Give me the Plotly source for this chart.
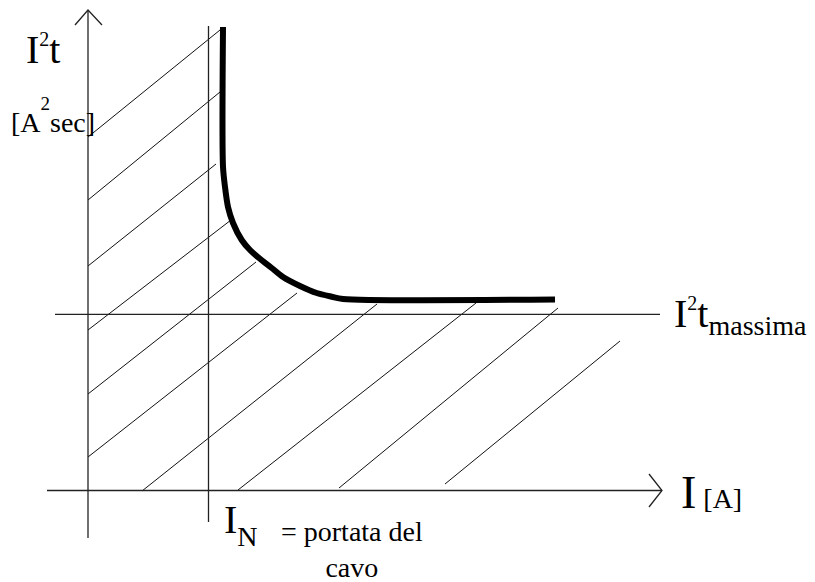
import plotly.graph_objects as go

# ---- diagram geometry (drawing units, y grows downward) ----
# vertical axis I^2t with arrow
yaxis_line_x = [88, 88]
yaxis_line_y = [10, 538]
yaxis_arrow_x = [75, 88, 102]
yaxis_arrow_y = [25, 10, 25]

# horizontal axis I with arrow
xaxis_line_x = [47, 662]
xaxis_line_y = [490.5, 490.5]
xaxis_arrow_x = [649, 662, 649]
xaxis_arrow_y = [474, 490.5, 507]

# I_N vertical reference line
in_line_x = [208.5, 208.5]
in_line_y = [26, 522]

# I^2t massima horizontal reference line
max_line_x = [55, 660]
max_line_y = [314.3, 314.3]

# thick protection curve
curve_x = [223, 223, 225, 228, 233, 241.7, 250, 259, 271.7, 283, 300, 316.7, 331.7, 343, 555]
curve_y = [27, 166.7, 187, 207, 223, 240, 250, 258, 268, 277, 286, 293, 296.7, 299, 299.5]

# hatch segments
hatch_x0 = [88, 88, 88, 88, 88, 88, 142, 238, 339, 445]
hatch_y0 = [137, 200, 266, 330, 394, 457, 491, 490, 488, 484]
hatch_x1 = [220, 220, 216, 231, 256, 297, 377, 476, 558, 620]
hatch_y1 = [30, 92, 164, 220, 262, 293, 304, 303, 308, 341]

# labels
label_i2t = "I<sup><span style='font-size:20px'>2</span></sup>t"
label_unit_y = ("<span style='font-size:28px'>[A</span><sup><span style='font-size:19px'>2</span></sup>"
                "<span style='font-size:28px'>sec]</span>")
label_max = ("I<sup><span style='font-size:20px'>2</span></sup>t"
             "<sub><span style='font-size:28px'>massima</span></sub>")
label_x = "<span style='font-size:46px'>I</span> [A]"
label_in = "<span style='font-size:40px'>I</span><sub><span style='font-size:28px'>N</span></sub>"
label_in_desc = "= portata del<br>cavo"

W, H = 815, 582
FONT = "Liberation Serif"

fig = go.Figure()

def seg_trace(xs, ys, width, color="#000"):
    fig.add_trace(go.Scatter(x=xs, y=ys, mode="lines",
                             line=dict(color=color, width=width),
                             hoverinfo="skip", showlegend=False))

hx, hy = [], []
for a, b, c, d in zip(hatch_x0, hatch_y0, hatch_x1, hatch_y1):
    hx += [a, c, None]
    hy += [b, d, None]
seg_trace(hx, hy, 1, "#111")

for xs, ys in [(yaxis_line_x, yaxis_line_y), (yaxis_arrow_x, yaxis_arrow_y),
               (xaxis_line_x, xaxis_line_y), (xaxis_arrow_x, xaxis_arrow_y),
               (in_line_x, in_line_y), (max_line_x, max_line_y)]:
    seg_trace(xs, ys, 1.3, "#222")

fig.add_trace(go.Scatter(x=curve_x, y=curve_y, mode="lines",
                         line=dict(color="#000", width=6, shape="spline", smoothing=0.8),
                         hoverinfo="skip", showlegend=False))

def label(text, x, y, size, xanchor="left", yanchor="top", align="left"):
    fig.add_annotation(text=text, x=x, y=y, xref="x", yref="y", showarrow=False,
                       xanchor=xanchor, yanchor=yanchor, align=align,
                       borderpad=0, borderwidth=0,
                       font=dict(family=FONT, size=size, color="#000"))

label(label_i2t, 26, 27.4, 40)
label(label_unit_y, 11, 93, 52)
label(label_max, 674, 291.4, 40)
label(label_x, 681, 467, 28)
label(label_in, 224, 497.4, 60)
label(label_in_desc, 352, 516, 28, xanchor="center", align="center")

fig.update_layout(
    width=W, height=H,
    margin=dict(l=0, r=0, t=0, b=0),
    paper_bgcolor="white", plot_bgcolor="white",
    font=dict(family=FONT),
    xaxis=dict(range=[0, W], visible=False, fixedrange=True),
    yaxis=dict(range=[H, 0], visible=False, fixedrange=True),
)

fig.write_html("out.html", config={"displayModeBar": False},
               post_script="document.body.style.margin='0';document.body.style.overflow='hidden';")
